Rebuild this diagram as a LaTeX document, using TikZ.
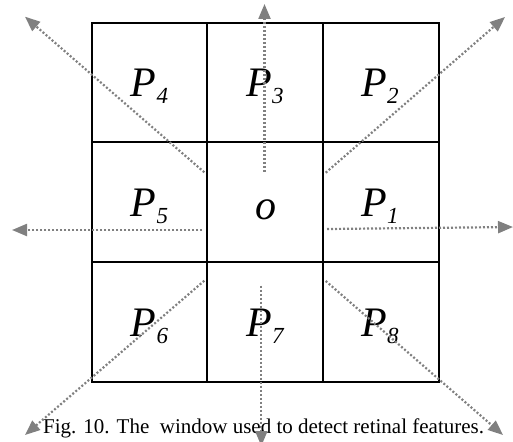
\documentclass[tikz,border=0pt]{standalone}
\usepackage{fontspec}
\setmainfont{Liberation Serif}
\usetikzlibrary{arrows.meta}
\definecolor{arrgray}{RGB}{128,128,128}
\newcommand{\cellP}[1]{{\fontsize{42}{42}\selectfont\itshape P}{\fontsize{23}{23}\selectfont\itshape\raisebox{-7pt}{#1}}}
\tikzset{
  gridline/.style={line width=2pt, black},
  ray/.style={arrgray, line width=2.2pt, dash pattern=on 2pt off 2pt,
    -{Triangle[length=15pt,width=12pt]}},
  lbl/.style={inner sep=0pt, anchor=base west},
}
\begin{document}
\begin{tikzpicture}[x=1pt,y=-1pt]
\useasboundingbox (0,0) rectangle (513,441);
% grid
\draw[gridline] (92,22.7) rectangle (438.7,381.7);
\draw[gridline] (207.3,22.7) -- (207.3,381.7);
\draw[gridline] (323,22.7) -- (323,381.7);
\draw[gridline] (92,141.7) -- (438.7,141.7);
\draw[gridline] (92,261.7) -- (438.7,261.7);
% labels
\node[lbl] (p4) at (130.7,96.7) {\cellP{4}};
\node[lbl] (p3) at (246.2,96.7) {\cellP{3}};
\node[lbl] (p2) at (361.3,96.7) {\cellP{2}};
\node[lbl] (p5) at (130.7,216.7) {\cellP{5}};
\node[lbl] (o) at (255,219) {\fontsize{42}{42}\selectfont\itshape o};
\node[lbl] (p1) at (361.3,216.7) {\cellP{1}};
\node[lbl] (p6) at (130.7,336.7) {\cellP{6}};
\node[lbl] (p7) at (246.2,336.7) {\cellP{7}};
\node[lbl] (p8) at (361.3,336.7) {\cellP{8}};
% caption
\node[lbl] (cap) at (43,433) {\fontsize{21}{21}\selectfont Fig. 10. The\ \ window used to detect retinal features.};
% ray coordinates
\coordinate (sUL) at (204.3,172.3);
\coordinate (sU)  at (264.5,171.7);
\coordinate (sUR) at (325.7,172.7);
\coordinate (sL)  at (202.3,230);
\coordinate (sR)  at (327,229);
\coordinate (sDL) at (204.3,280.7);
\coordinate (sD)  at (261.3,285.7);
\coordinate (sDR) at (325.7,281);
\coordinate (eUL) at (25,16.7);
\coordinate (eU)  at (264.5,4);
\coordinate (eUR) at (505,17);
\coordinate (eL)  at (12,230);
\coordinate (eR)  at (513,227);
\coordinate (eDL) at (25,435);
\coordinate (eD)  at (261.3,446);
\coordinate (eDR) at (503,435);
% rays
\draw[ray] (sUL) -- (eUL);
\draw[ray] (sU) -- (eU);
\draw[ray] (sUR) -- (eUR);
\draw[ray] (sL) -- (eL);
\draw[ray] (sR) -- (eR);
\draw[ray] (sDL) -- (eDL);
\draw[ray] (sD) -- (eD);
\draw[ray] (sDR) -- (eDR);
\end{tikzpicture}
\end{document}
